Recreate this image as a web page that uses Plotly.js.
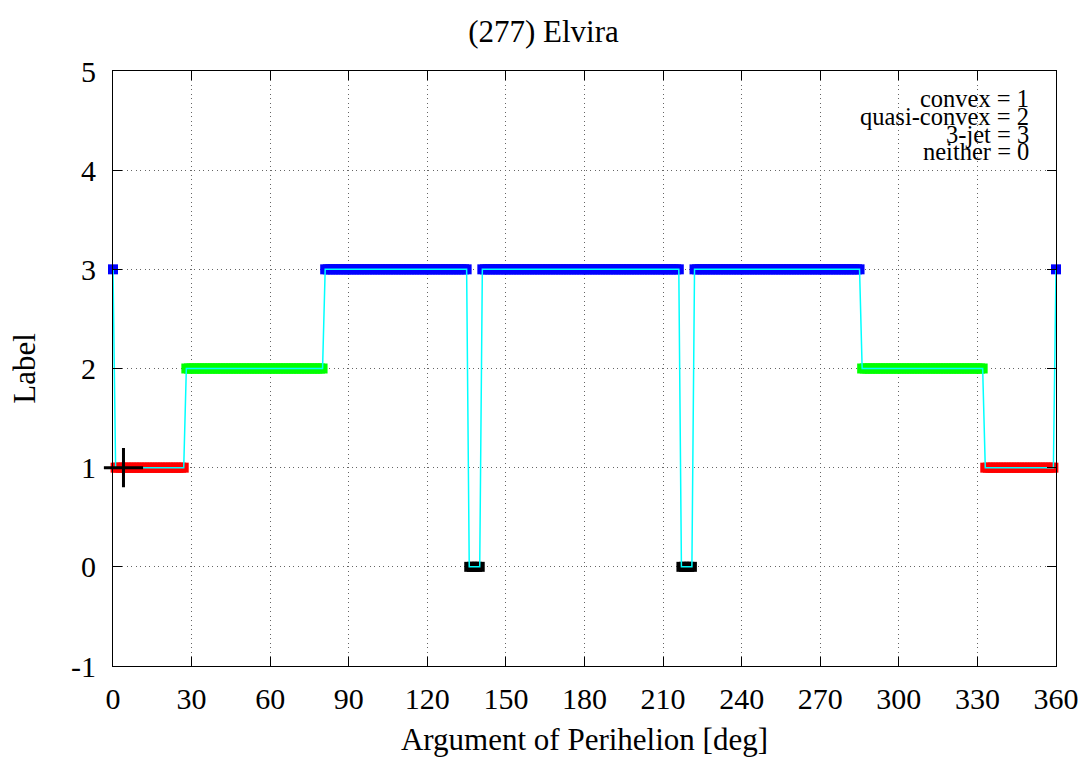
<!DOCTYPE html>
<html>
<head>
<meta charset="utf-8">
<script src="https://cdn.plot.ly/plotly-3.0.1.min.js"></script>
<style>html,body{margin:0;padding:0;background:#fff;}#chart{width:1087px;height:762px;}</style>
</head>
<body>
<div id="chart"></div>
<script>
// Argument of perihelion, 1-degree steps from 0 to 360
var degrees = [];
for (var d = 0; d <= 360; d++) degrees.push(d);

// Shape label read at each degree (0..360), rows of 30 degrees
var labels = [
  3,1,1,1,1,1,1,1,1,1,  1,1,1,1,1,1,1,1,1,1,  1,1,1,1,1,1,1,1,2,2,   // 0-29
  2,2,2,2,2,2,2,2,2,2,  2,2,2,2,2,2,2,2,2,2,  2,2,2,2,2,2,2,2,2,2,   // 30-59
  2,2,2,2,2,2,2,2,2,2,  2,2,2,2,2,2,2,2,2,2,  2,3,3,3,3,3,3,3,3,3,   // 60-89
  3,3,3,3,3,3,3,3,3,3,  3,3,3,3,3,3,3,3,3,3,  3,3,3,3,3,3,3,3,3,3,   // 90-119
  3,3,3,3,3,3,3,3,3,3,  3,3,3,3,3,3,0,0,0,0,  0,3,3,3,3,3,3,3,3,3,   // 120-149
  3,3,3,3,3,3,3,3,3,3,  3,3,3,3,3,3,3,3,3,3,  3,3,3,3,3,3,3,3,3,3,   // 150-179
  3,3,3,3,3,3,3,3,3,3,  3,3,3,3,3,3,3,3,3,3,  3,3,3,3,3,3,3,3,3,3,   // 180-209
  3,3,3,3,3,3,3,0,0,0,  0,0,3,3,3,3,3,3,3,3,  3,3,3,3,3,3,3,3,3,3,   // 210-239
  3,3,3,3,3,3,3,3,3,3,  3,3,3,3,3,3,3,3,3,3,  3,3,3,3,3,3,3,3,3,3,   // 240-269
  3,3,3,3,3,3,3,3,3,3,  3,3,3,3,3,3,2,2,2,2,  2,2,2,2,2,2,2,2,2,2,   // 270-299
  2,2,2,2,2,2,2,2,2,2,  2,2,2,2,2,2,2,2,2,2,  2,2,2,2,2,2,2,2,2,2,   // 300-329
  2,2,2,1,1,1,1,1,1,1,  1,1,1,1,1,1,1,1,1,1,  1,1,1,1,1,1,1,1,1,1,   // 330-359
  3                                                                  // 360
];

// Marked reference point (cross)
var markX = [4];
var markY = [1];

var labelColors = {0: '#000000', 1: '#ff0000', 2: '#00ff00', 3: '#0000ff'};
var legendLines = ['convex = 1', 'quasi-convex = 2', '3-jet = 3', 'neither = 0'];

var xTicks = [0,30,60,90,120,150,180,210,240,270,300,330,360];
var yTicks = [-1,0,1,2,3,4,5];

var FONT = '"Liberation Serif", "Times New Roman", serif';

var traces = [
  {
    x: degrees, y: labels, type: 'scatter', mode: 'markers',
    marker: {symbol: 'square', size: 10, color: labels.map(function(l){return labelColors[l];}), line: {width: 0}},
    cliponaxis: false, hoverinfo: 'x+y', showlegend: false
  },
  {
    x: degrees, y: labels, type: 'scatter', mode: 'lines',
    line: {color: '#00ffff', width: 1.5},
    hoverinfo: 'skip', showlegend: false
  },
  {
    x: markX, y: markY, type: 'scatter', mode: 'markers',
    marker: {symbol: 'cross-thin', size: 28, color: '#000', line: {color: '#000', width: 3}},
    cliponaxis: false, showlegend: false
  }
];

var yPos = [0.9546, 0.9235, 0.8941, 0.8639];
var annotations = legendLines.map(function(t, i){
  return {text: t, xref: 'paper', yref: 'paper', x: 0.9740, y: yPos[i],
    xanchor: 'right', yanchor: 'middle', showarrow: false,
    font: {family: FONT, size: 24.5, color: '#000'}};
});

var layout = {
  width: 1087, height: 762,
  margin: {l: 113, r: 31, t: 71, b: 96},
  paper_bgcolor: '#fff', plot_bgcolor: '#fff',
  font: {family: FONT, size: 30, color: '#000'},
  title: {text: '(277) Elvira', font: {family: FONT, size: 31, color: '#000'},
    x: 0.5, xref: 'container', y: 1 - 31/762, yref: 'container', yanchor: 'middle'},
  xaxis: {
    range: [0, 360], tickvals: xTicks, ticktext: xTicks.map(String),
    ticks: 'inside', ticklen: 9, tickwidth: 1, tickcolor: '#000',
    showline: true, linecolor: '#000', linewidth: 1, mirror: 'ticks',
    showgrid: true, gridcolor: '#666', griddash: '1px,3.5px', gridwidth: 1,
    zeroline: false, ticklabelstandoff: 6,
    tickfont: {family: FONT, size: 30, color: '#000'},
    title: {text: 'Argument of Perihelion [deg]', font: {family: FONT, size: 31, color: '#000'}, standoff: 14}
  },
  yaxis: {
    range: [-1, 5], tickvals: yTicks, ticktext: yTicks.map(String),
    ticks: 'inside', ticklen: 9, tickwidth: 1, tickcolor: '#000',
    showline: true, linecolor: '#000', linewidth: 1, mirror: 'ticks',
    showgrid: true, gridcolor: '#666', griddash: '1px,3.5px', gridwidth: 1,
    zeroline: false, ticklabelstandoff: 10,
    tickfont: {family: FONT, size: 30, color: '#000'},
    title: {text: 'Label', font: {family: FONT, size: 31, color: '#000'}, standoff: 26}
  },
  annotations: annotations,
  showlegend: false
};

Plotly.newPlot('chart', traces, layout, {displayModeBar: false, staticPlot: true});
</script>
</body>
</html>
